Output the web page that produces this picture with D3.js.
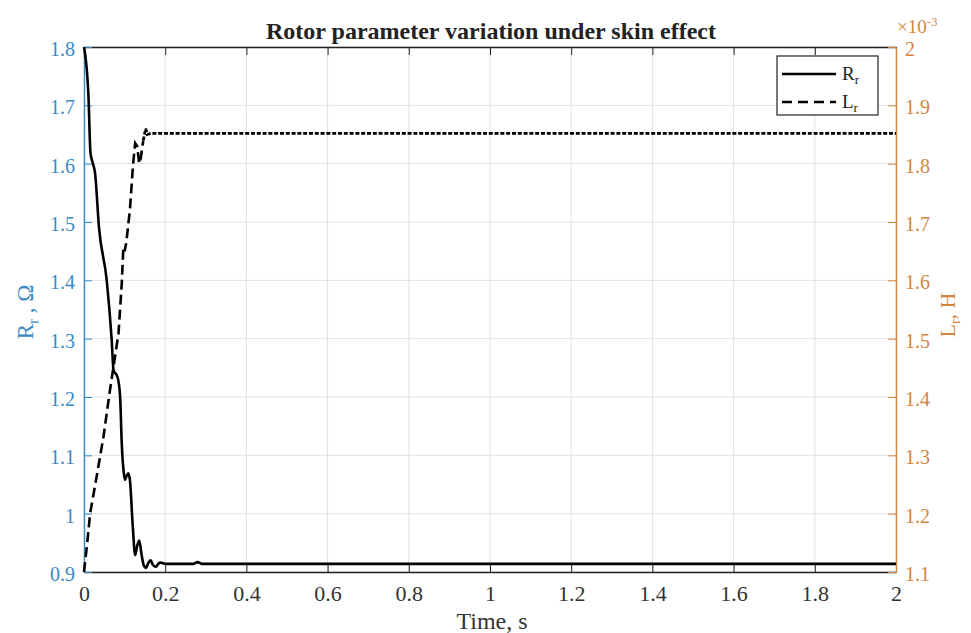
<!DOCTYPE html>
<html>
<head>
<meta charset="utf-8">
<script src="https://cdn.jsdelivr.net/npm/d3@7"></script>
<style>
  body { margin: 0; background: #fff; }
  text { font-family: "Liberation Serif", "Times New Roman", serif; }
</style>
</head>
<body>
<div id="chart"></div>
<script>
// Rr (ohm) samples
const timeR = [0, 0.011, 0.016, 0.022, 0.027, 0.037, 0.056, 0.068, 0.073, 0.08, 0.084, 0.089, 0.093, 0.098,
  0.101, 0.105, 0.109, 0.113, 0.12, 0.126, 0.131, 0.136, 0.142, 0.147, 0.153, 0.158, 0.164, 0.17, 0.177,
  0.183, 0.189, 0.2, 0.27, 0.28, 0.29, 2.0];
const rotorR = [1.8, 1.715, 1.618, 1.6, 1.585, 1.49, 1.4, 1.3, 1.245, 1.238, 1.23, 1.2, 1.12, 1.07,
  1.058, 1.065, 1.069, 1.058, 0.98, 0.929, 0.945, 0.954, 0.929, 0.912, 0.907, 0.915, 0.92, 0.912, 0.909,
  0.914, 0.916, 0.914, 0.914, 0.917, 0.914, 0.914];

// Lr (x1e-3 H) samples
const timeL = [0, 0.003, 0.007, 0.015, 0.031, 0.048, 0.064, 0.085, 0.093, 0.097, 0.1, 0.104, 0.113, 0.121,
  0.126, 0.131, 0.136, 0.14, 0.146, 0.152, 0.156, 0.165, 2.0];
const rotorL = [1.1, 1.12, 1.143, 1.2, 1.263, 1.332, 1.412, 1.509, 1.595, 1.657, 1.65, 1.664, 1.72, 1.8,
  1.835, 1.83, 1.8, 1.81, 1.84, 1.86, 1.85, 1.852, 1.852];

const xTicks = [0, 0.2, 0.4, 0.6, 0.8, 1, 1.2, 1.4, 1.6, 1.8, 2];
const leftTicks = [0.9, 1, 1.1, 1.2, 1.3, 1.4, 1.5, 1.6, 1.7, 1.8];
const rightTicks = [1.1, 1.2, 1.3, 1.4, 1.5, 1.6, 1.7, 1.8, 1.9, 2];

const W = 971, H = 633;
const m = { left: 84, right: 75, top: 47, bottom: 61 };
const blue = "#3b8ac4", orange = "#d2853f";
const serif = "'Liberation Serif', 'Times New Roman', serif";

const svg = d3.select("#chart").append("svg")
  .attr("width", W).attr("height", H);

const x = d3.scaleLinear().domain([0, 2]).range([m.left, W - m.right]);
const yL = d3.scaleLinear().domain([0.9, 1.8]).range([H - m.bottom, m.top]);
const yR = d3.scaleLinear().domain([1.1, 2]).range([H - m.bottom, m.top]);

// grid
const grid = svg.append("g");
grid.selectAll(".gx").data(xTicks).enter().append("line")
  .attr("x1", d => x(d)).attr("x2", d => x(d))
  .attr("y1", m.top).attr("y2", H - m.bottom)
  .attr("stroke", "#dce2e9").attr("stroke-width", 1);
grid.selectAll(".gy").data(leftTicks).enter().append("line")
  .attr("x1", m.left).attr("x2", W - m.right)
  .attr("y1", d => yL(d)).attr("y2", d => yL(d))
  .attr("stroke", "#dce2e9").attr("stroke-width", 1);

// axes
const tickFont = size => g => g.attr("font-family", serif).attr("font-size", size)
  .selectAll("text").style("font-size", size + "px").style("font-family", serif);

svg.append("g").attr("transform", `translate(0,${H - m.bottom})`)
  .call(d3.axisBottom(x).tickValues(xTicks).tickFormat(d3.format("~g")).tickSizeInner(-8).tickSizeOuter(0).tickPadding(13))
  .call(g => g.select(".domain").attr("stroke", "#222").attr("stroke-width", 1.4))
  .call(g => g.selectAll("line").attr("stroke", "#222"))
  .call(g => g.selectAll("text").attr("fill", "#333"))
  .call(tickFont(22));

svg.append("g").attr("transform", `translate(0,${m.top})`)
  .call(d3.axisTop(x).tickValues(xTicks).tickFormat("").tickSizeInner(-8).tickSizeOuter(0))
  .call(g => g.select(".domain").attr("stroke", "#222").attr("stroke-width", 1.4))
  .call(g => g.selectAll("line").attr("stroke", "#222"));

svg.append("g").attr("transform", `translate(${m.left},0)`)
  .call(d3.axisLeft(yL).tickValues(leftTicks).tickFormat(d3.format("~g")).tickSizeInner(-8).tickSizeOuter(0).tickPadding(9))
  .call(g => g.select(".domain").attr("stroke", blue).attr("stroke-width", 1.4))
  .call(g => g.selectAll("line").attr("stroke", blue))
  .call(g => g.selectAll("text").attr("fill", blue).attr("dy", "0.42em"))
  .call(tickFont(20));

svg.append("g").attr("transform", `translate(${W - m.right},0)`)
  .call(d3.axisRight(yR).tickValues(rightTicks).tickFormat(d3.format("~g")).tickSizeInner(-8).tickSizeOuter(0).tickPadding(9))
  .call(g => g.select(".domain").attr("stroke", orange).attr("stroke-width", 1.4))
  .call(g => g.selectAll("line").attr("stroke", orange))
  .call(g => g.selectAll("text").attr("fill", orange).attr("dy", "0.42em"))
  .call(tickFont(20));

// curves
const lineR = d3.line().curve(d3.curveMonotoneX).x(d => x(d[0])).y(d => yL(d[1]));
const lineL = d3.line().x(d => x(d[0])).y(d => yR(d[1]));
const ptsR = timeR.map((t, i) => [t, rotorR[i]]);
const ptsL = timeL.map((t, i) => [t, rotorL[i]]);

svg.append("path").datum(ptsR).attr("d", lineR)
  .attr("fill", "none").attr("stroke", "#000").attr("stroke-width", 2.6);

// rising part has long dashes, the noisy flat part looks dotted
const split = timeL.findIndex(t => t >= 0.146);
svg.append("path").datum(ptsL.slice(0, split + 1)).attr("d", lineL)
  .attr("fill", "none").attr("stroke", "#000").attr("stroke-width", 2.6)
  .attr("stroke-dasharray", "10,5");
svg.append("path").datum(ptsL.slice(split)).attr("d", lineL)
  .attr("fill", "none").attr("stroke", "#000").attr("stroke-width", 2.8)
  .attr("stroke-dasharray", "4,1.8");

// legend
const lg = svg.append("g").attr("transform", "translate(777,56)");
lg.append("rect").attr("width", 101).attr("height", 59)
  .attr("fill", "#fff").attr("stroke", "#222").attr("stroke-width", 1.2);
lg.append("line").attr("x1", 5).attr("x2", 59).attr("y1", 18).attr("y2", 18)
  .attr("stroke", "#000").attr("stroke-width", 2.6);
lg.append("line").attr("x1", 5).attr("x2", 59).attr("y1", 46).attr("y2", 46)
  .attr("stroke", "#000").attr("stroke-width", 2.6).attr("stroke-dasharray", "10,6");
const lt1 = lg.append("text").attr("x", 65).attr("y", 24).style("font-size", "19px").attr("fill", "#222");
lt1.append("tspan").text("R");
lt1.append("tspan").attr("dy", 4).style("font-size", "13px").text("r");
const lt2 = lg.append("text").attr("x", 65).attr("y", 52).style("font-size", "19px").attr("fill", "#222");
lt2.append("tspan").text("L");
lt2.append("tspan").attr("dy", 4).style("font-size", "13px").text("r");

// title and labels
svg.append("text").attr("x", 491).attr("y", 39)
  .attr("text-anchor", "middle").style("font-size", "24px").style("font-weight", "bold")
  .attr("fill", "#222").text("Rotor parameter variation under skin effect");

svg.append("text").attr("x", 492).attr("y", 629)
  .attr("text-anchor", "middle").style("font-size", "24px").attr("fill", "#333").text("Time, s");

const yl = svg.append("text").attr("transform", "translate(33,312) rotate(-90)")
  .attr("text-anchor", "middle").style("font-size", "23px").attr("fill", blue);
yl.append("tspan").text("R");
yl.append("tspan").attr("dy", 5).style("font-size", "15px").text("r");
yl.append("tspan").attr("dy", -5).text(" , Ω");

const yr = svg.append("text").attr("transform", "translate(955,315) rotate(-90)")
  .attr("text-anchor", "middle").style("font-size", "22px").attr("fill", orange);
yr.append("tspan").text("L");
yr.append("tspan").attr("dy", 5).style("font-size", "14px").text("r");
yr.append("tspan").attr("dy", -5).text(", H");

const ex = svg.append("text").attr("x", 897).attr("y", 33).style("font-size", "19px").attr("fill", orange);
ex.append("tspan").text("×10");
ex.append("tspan").attr("dy", -7).style("font-size", "13px").text("-3");
</script>
</body>
</html>
